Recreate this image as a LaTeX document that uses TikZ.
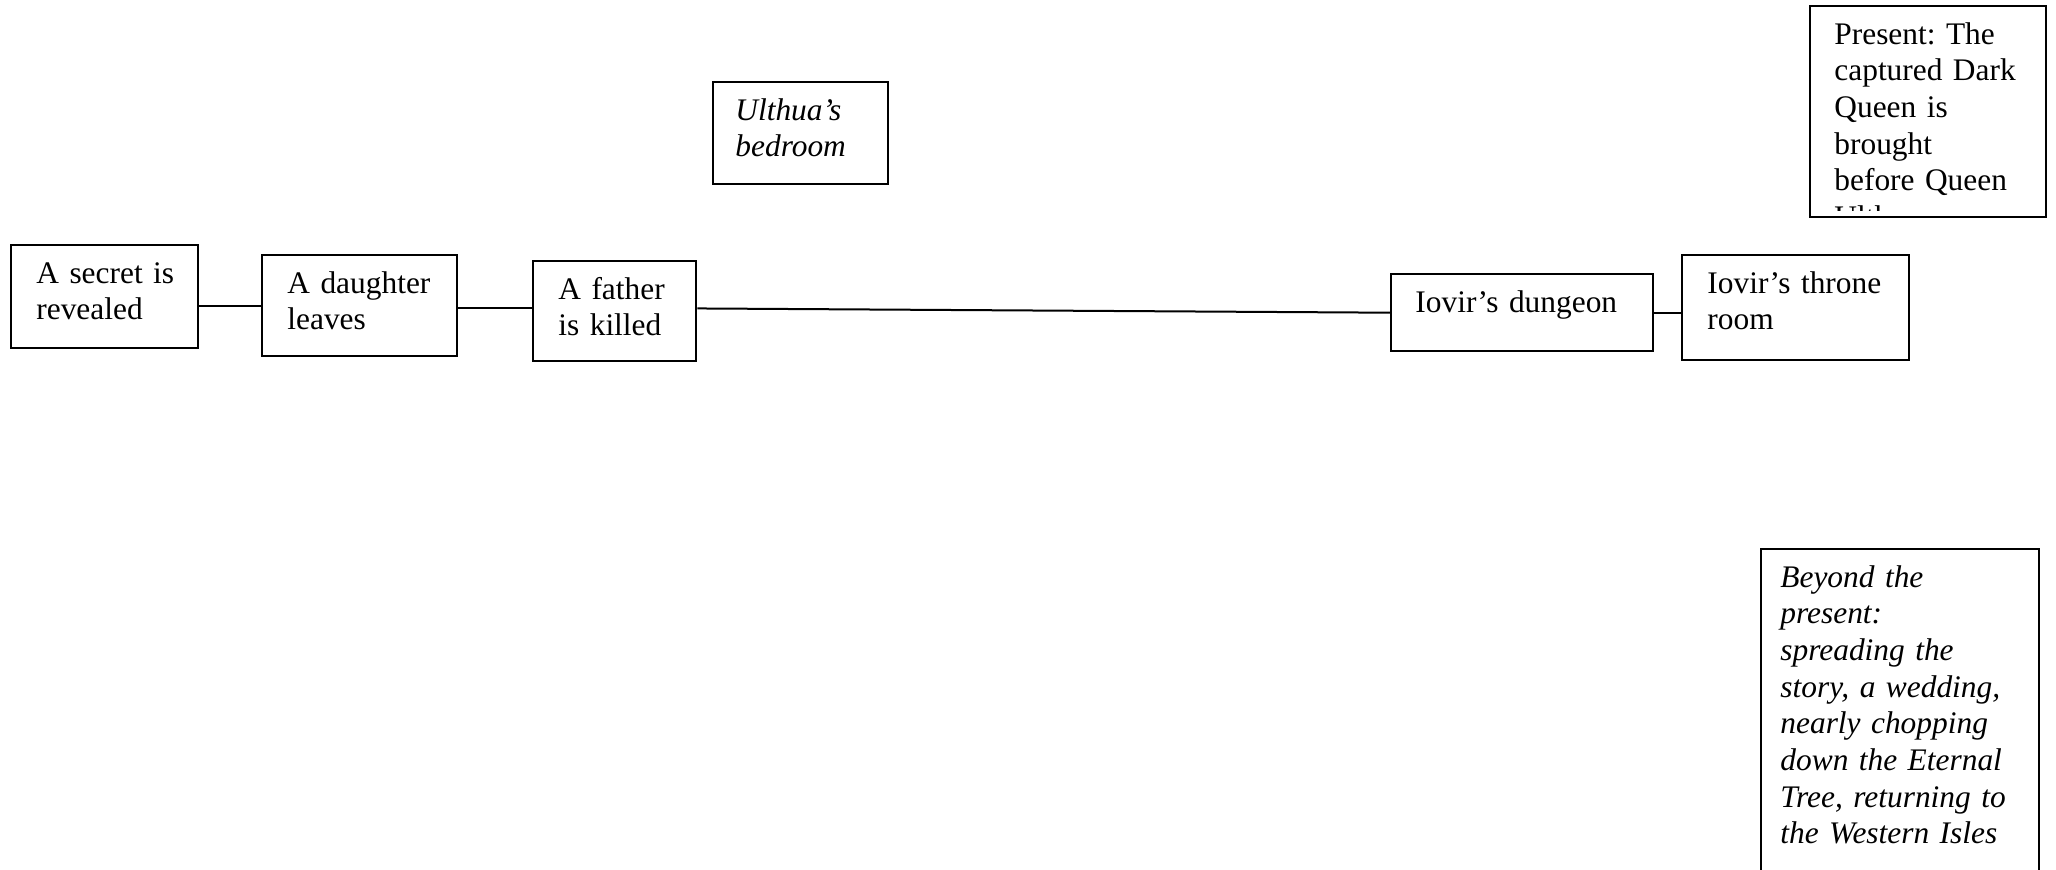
\documentclass[tikz,border=0pt]{standalone}
\usepackage{fontspec}
\setmainfont{Liberation Serif}
\usetikzlibrary{calc}
\begin{document}
\frenchspacing
\begin{tikzpicture}[x=0.5pt,y=-0.5pt,
  box/.style={draw, line width=1.2pt, rectangle, inner sep=0pt, anchor=north west},
  txt/.style={anchor=north west, inner sep=0pt, align=left, text width=#1,
    font=\fontsize{15.7}{18.35}\selectfont\frenchspacing},
  itxt/.style={txt=#1, font=\fontsize{15.7}{18.35}\selectfont\itshape\frenchspacing},
  conn/.style={line width=1pt}]
\useasboundingbox (0,0) rectangle (2056,870);

% boxes
\node[box, minimum width=93.5pt, minimum height=51.5pt] (b1) at (10,244) {};
\node[box, minimum width=97.5pt, minimum height=50.5pt] (b2) at (261,254) {};
\node[box, minimum width=81.5pt, minimum height=50pt] (b3) at (532,260) {};
\node[box, minimum width=87.5pt, minimum height=51pt] (ul) at (712,81) {};
\node[box, minimum width=131pt, minimum height=38.5pt] (dun) at (1390,273) {};
\node[box, minimum width=113.5pt, minimum height=52.5pt] (thr) at (1681,254) {};
\node[box, minimum width=118pt, minimum height=105.5pt] (pres) at (1809,5) {};
\node[box, minimum width=139pt, minimum height=180pt] (bey) at (1760,548) {};

% texts
\node[txt=80pt] (t1) at ($(b1.north west)+(26,13)$) {\strut A secret is\\revealed};
\node[txt=80pt] (t2) at ($(b2.north west)+(26,13)$) {\strut A daughter\\leaves};
\node[txt=70pt] (t3) at ($(b3.north west)+(26,13)$) {\strut A father\\is killed};
\node[itxt=75pt] (t4) at ($(ul.north west)+(23,13)$) {\strut Ulthua’s\\bedroom};
\node[txt=120pt] (t5) at ($(dun.north west)+(25,13)$) {\strut Iovir’s dungeon};
\node[txt=100pt] (t6) at ($(thr.north west)+(26,13)$) {\strut Iovir’s throne\\room};
\begin{scope}
  \clip (pres.north west) rectangle ($(pres.south east)+(0,-8)$);
  \node[txt=105pt] (t7) at ($(pres.north west)+(25,13)$)
    {\strut Present: The\\captured Dark\\Queen is\\brought\\before Queen\\Ulthua};
\end{scope}
\node[itxt=130pt] (t8) at ($(bey.north west)+(20,13)$)
  {\strut Beyond the\\present:\\spreading the\\story, a wedding,\\nearly chopping\\down the Eternal\\Tree, returning to\\the Western Isles};

% connectors
\draw[conn] (b1.east |- b2.west) -- (b2.west);
\coordinate (m23) at ($(b2.east)!.5!(b3.west)$);
\draw[conn] (b2.east |- m23) -- (b3.west |- m23);
\draw[conn] (b3.east |- m23) -- (dun.west);
\draw[conn] (dun.east) -- (dun.east -| thr.west);
\end{tikzpicture}
\end{document}
